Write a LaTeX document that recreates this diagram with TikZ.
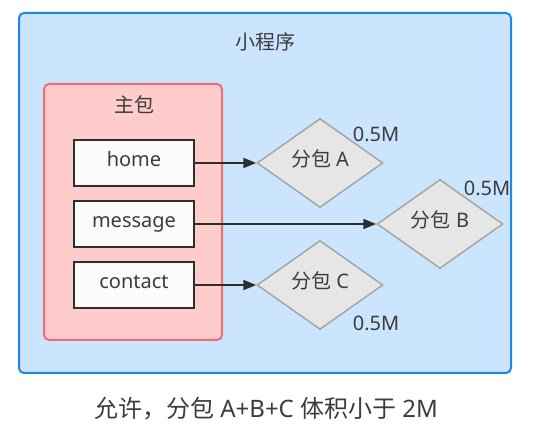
\documentclass[tikz,border=0pt]{standalone}
\usepackage{fontspec}
\setmainfont{Noto Sans}
\newfontfamily\cjk{Noto Sans CJK SC}
\usepackage{xcolor}
\usepackage{tikz}
\usetikzlibrary{shapes.geometric, arrows.meta, positioning}
\definecolor{fondo}{RGB}{204,229,255}
\definecolor{borde}{RGB}{30,136,229}
\definecolor{rosa}{RGB}{255,204,204}
\definecolor{rosaborde}{RGB}{240,110,120}
\definecolor{gris}{RGB}{230,230,230}
\definecolor{grisborde}{RGB}{165,165,165}
\definecolor{tinta}{RGB}{45,45,45}
\definecolor{texto}{RGB}{60,60,60}

\begin{document}
\begin{tikzpicture}[
  x=1pt, y=-1pt,
  every node/.style={font=\fontsize{20}{24}\selectfont, text=texto},
  app/.style={draw=borde, line width=2pt, fill=fondo, rounded corners=5pt,
              minimum width=492pt, minimum height=360pt},
  mainpkg/.style={draw=rosaborde, line width=2pt, fill=rosa, rounded corners=5pt,
                  minimum width=178pt, minimum height=256pt},
  page/.style={draw=tinta, line width=2pt, fill=white!97!gray, rectangle,
               minimum width=120pt, minimum height=46pt, inner sep=0pt,
               text height=0.9em, text depth=0.25em},
  subpkg/.style={draw=grisborde, line width=1.5pt, fill=gris, diamond,
                 minimum width=126pt, minimum height=89pt, inner sep=0pt,
                 text height=0.9em, text depth=0.25em},
  arr/.style={-{Triangle[length=13pt, width=10pt]}, draw=tinta, line width=2pt}
]
  \useasboundingbox (0,0) rectangle (547,430);

  \node[app] (app) at (265,193) {};
  \node (apptitle) at (265,42) {\cjk 小程序};
  \node[mainpkg] (main) at (133,212) {};
  \node (maintitle) at (134,105) {\cjk 主包};

  \node[page] (home) at (134,163) {home};
  \node[page] (message) at (134,224) {message};
  \node[page] (contact) at (134,285) {contact};

  \node[subpkg] (pa) at (320,163) {{\cjk 分包} A};
  \node[subpkg] (pb) at (440,224) {{\cjk 分包} B};
  \node[subpkg] (pc) at (320,285) {{\cjk 分包} C};

  \node (sizea) at (376,134) {0.5M};
  \node (sizeb) at (487,188) {0.5M};
  \node (sizec) at (376,323) {0.5M};

  \draw[arr] (home) -- (pa);
  \draw[arr] (message) -- (pb);
  \draw[arr] (contact) -- (pc);

  \node[font=\fontsize{24}{28}\selectfont] (note) at (266,409)
    {{\cjk 允许，分包} A+B+C {\cjk 体积小于} 2M};
\end{tikzpicture}
\end{document}
